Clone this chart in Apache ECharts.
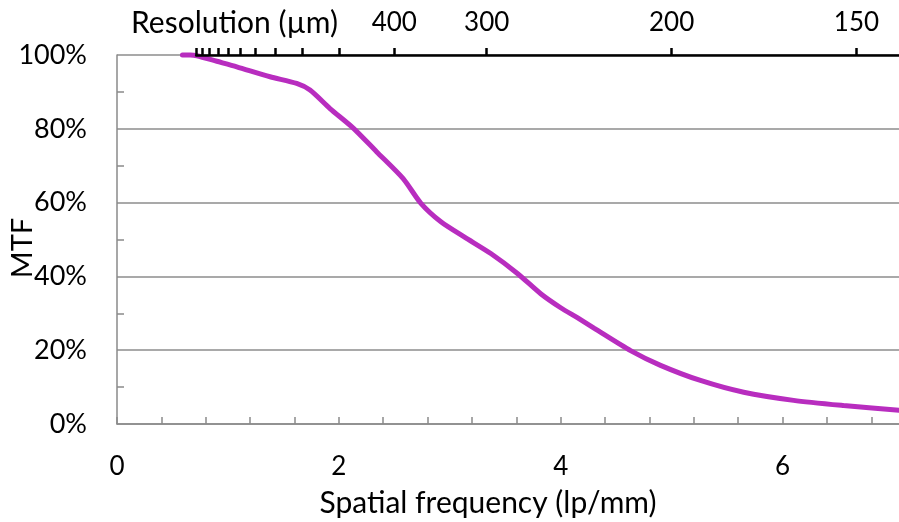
<!DOCTYPE html>
<html>
<head>
<meta charset="utf-8">
<script src="https://cdn.jsdelivr.net/npm/echarts@6/dist/echarts.min.js"></script>
<style>
  html, body { margin: 0; padding: 0; background: #fff; }
  #main { width: 899px; height: 522px; }
</style>
</head>
<body>
<div id="main"></div>
<script>
// 曲线数据 (lp/mm -> MTF %)
var freq = [0.59, 0.66, 0.72, 0.9, 1.08, 1.38, 1.62, 1.74, 1.92, 2.13, 2.34, 2.58, 2.74, 2.92,
            3.13, 3.37, 3.61, 3.82, 4.0, 4.15, 4.3, 4.63, 4.9, 5.26, 5.65, 6.1, 6.55, 7.05];
var mtf = [100, 100, 99.8, 98.3, 96.8, 94.1, 92.3, 90.5, 85.5, 80.2, 73.8, 66.5, 59.8, 54.8,
           50.7, 46.2, 40.8, 35.3, 31.5, 28.8, 26.0, 19.9, 15.9, 11.8, 8.6, 6.4, 5.0, 3.7];

// 上方分辨率轴 (µm)
var resTicks = [1400, 1300, 1200, 1100, 1000, 900, 800, 700, 600, 500, 400, 300, 200, 150];
var resLabels = [400, 300, 200, 150];
var freqLabels = [0, 2, 4, 6];

var xMax = 7.05;
var gridLeft = 117, gridRight = 0, gridTop = 55, gridBottom = 98;
var gridWidth = 899 - gridLeft - gridRight;
var FONT = 'Lato';

var myChart = echarts.init(document.getElementById('main'));

var series = freq.map(function (f, i) { return [f, mtf[i]]; });
// 上轴从最大分辨率的位置开始
var topLeft = gridLeft + (1000 / resTicks[0]) / xMax * gridWidth;

var option = {
    animation: false,
    textStyle: { fontFamily: FONT },
    title: {
        text: 'Resolution (µm)',
        left: 126,
        top: 3,
        textStyle: { fontFamily: FONT, fontSize: 30, fontWeight: 'normal', color: '#000' }
    },
    grid: [
        { left: gridLeft, right: gridRight, top: gridTop, bottom: gridBottom, outerBoundsMode: 'none' },
        { left: topLeft, right: gridRight, top: gridTop, height: 10, outerBoundsMode: 'none' }
    ],
    xAxis: [
        {
            type: 'value', gridIndex: 0, min: 0, max: xMax, interval: 0.4,
            name: 'Spatial frequency (lp/mm)',
            nameLocation: 'middle', nameGap: 64, nameMoveOverlap: false,
            nameTextStyle: { fontFamily: FONT, fontSize: 30, color: '#000', padding: [0, 40, 0, 0] },
            axisLine: { lineStyle: { color: '#8a8a8a', width: 1.5 } },
            axisTick: { inside: true, length: 7, lineStyle: { color: '#8a8a8a', width: 1.5 } },
            axisLabel: {
                margin: 30, fontSize: 26, color: '#000', fontFamily: FONT,
                showMaxLabel: false,
                formatter: function (v) {
                    for (var i = 0; i < freqLabels.length; i++) {
                        if (Math.abs(v - freqLabels[i]) < 1e-6) return String(freqLabels[i]);
                    }
                    return '';
                }
            },
            splitLine: { show: false }
        },
        {
            type: 'value', gridIndex: 1, position: 'top', z: 5,
            min: 1000 / resTicks[0], max: xMax,
            axisLine: { onZero: false, lineStyle: { color: '#000', width: 2.5 } },
            axisTick: {
                length: 7, lineStyle: { color: '#000', width: 2.5 },
                customValues: resTicks.map(function (r) { return 1000 / r; })
            },
            axisLabel: {
                margin: 19, fontSize: 26, color: '#000', fontFamily: FONT,
                customValues: resLabels.map(function (r) { return 1000 / r; }),
                formatter: function (v) { return String(Math.round(1000 / v)); }
            },
            splitLine: { show: false }
        }
    ],
    yAxis: [
        {
            type: 'value', gridIndex: 0, min: 0, max: 100, interval: 20,
            name: 'MTF', nameLocation: 'middle', nameGap: 80, nameRotate: 90, nameMoveOverlap: false,
            nameTextStyle: { fontFamily: FONT, fontSize: 29, color: '#000', padding: [0, 17, 0, 0] },
            axisLine: { show: true, lineStyle: { color: '#8a8a8a', width: 1.5 } },
            axisTick: { show: false, inside: true },
            minorTick: { show: true, splitNumber: 2, length: 7, lineStyle: { color: '#8a8a8a', width: 1.5 } },
            axisLabel: { margin: 30, fontSize: 27, color: '#000', fontFamily: FONT, formatter: '{value}%' },
            splitLine: { lineStyle: { color: '#8c8c8c', width: 1.5 } }
        },
        { type: 'value', gridIndex: 1, show: false, min: 0, max: 1 }
    ],
    series: [
        {
            type: 'line', xAxisIndex: 0, yAxisIndex: 0,
            data: series, smooth: 0.25, showSymbol: false, clip: false,
            lineStyle: { color: '#b82dbf', width: 5, cap: 'round' }
        }
    ]
};

myChart.setOption(option);
</script>
</body>
</html>
